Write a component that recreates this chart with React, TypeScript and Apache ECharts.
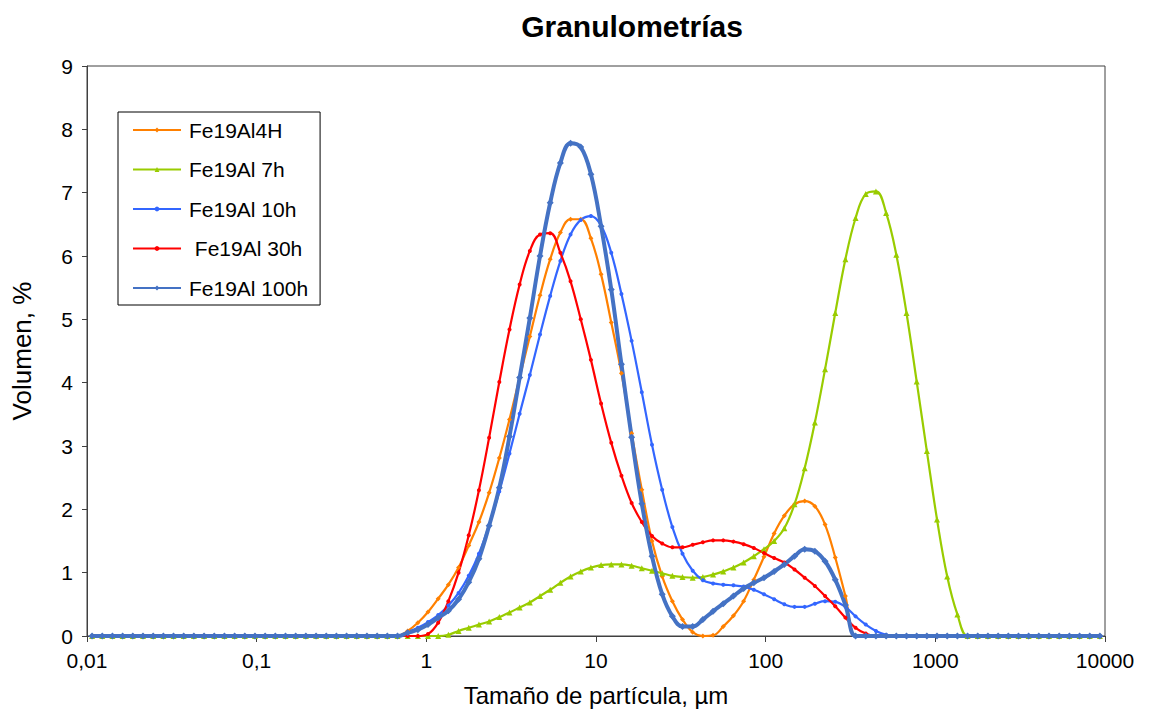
import React, { useEffect, useRef } from "react";
import * as echarts from "echarts";

// Particle size classes (µm), geometric centres of the 100 bins from 0.01 to 10000 µm
const sizes = [
  0.010715, 0.012303, 0.014125, 0.016218, 0.018621, 0.02138, 0.024547, 0.028184, 0.032359, 0.037154,
  0.042658, 0.048978, 0.056234, 0.064565, 0.074131, 0.085114, 0.097724, 0.1122, 0.12882, 0.14791,
  0.16982, 0.19498, 0.22387, 0.25704, 0.29512, 0.33884, 0.38905, 0.44668, 0.51286, 0.58884,
  0.67608, 0.77625, 0.89125, 1.0233, 1.1749, 1.349, 1.5488, 1.7783, 2.0417, 2.3442,
  2.6915, 3.0903, 3.5481, 4.0738, 4.6774, 5.3703, 6.166, 7.0795, 8.1283, 9.3325,
  10.715, 12.303, 14.125, 16.218, 18.621, 21.38, 24.547, 28.184, 32.359, 37.154,
  42.658, 48.978, 56.234, 64.565, 74.131, 85.114, 97.724, 112.2, 128.82, 147.91,
  169.82, 194.98, 223.87, 257.04, 295.12, 338.84, 389.05, 446.68, 512.86, 588.84,
  676.08, 776.25, 891.25, 1023.3, 1174.9, 1349, 1548.8, 1778.3, 2041.7, 2344.2,
  2691.5, 3090.3, 3548.1, 4073.8, 4677.4, 5370.3, 6166, 7079.5, 8128.3, 9332.5,
];

// Volume (%) per size class
const fe19Al4H = [
  0, 0, 0, 0, 0, 0, 0, 0, 0, 0,
  0, 0, 0, 0, 0, 0, 0, 0, 0, 0,
  0, 0, 0, 0, 0, 0, 0, 0, 0, 0,
  0, 0.08, 0.21, 0.38, 0.59, 0.81, 1.08, 1.43, 1.8, 2.26,
  2.81, 3.42, 4.08, 4.73, 5.38, 5.95, 6.37, 6.58, 6.58, 6.28,
  5.71, 4.95, 4.15, 3.2, 2.31, 1.5, 0.94, 0.55, 0.26, 0.06,
  0, 0.01, 0.15, 0.32, 0.55, 0.89, 1.25, 1.62, 1.9, 2.08,
  2.13, 2.05, 1.76, 1.24, 0.63, 0, 0, 0, 0, 0,
  0, 0, 0, 0, 0, 0, 0, 0, 0, 0,
  0, 0, 0, 0, 0, 0, 0, 0, 0, 0,
];

const fe19Al7h = [
  0, 0, 0, 0, 0, 0, 0, 0, 0, 0,
  0, 0, 0, 0, 0, 0, 0, 0, 0, 0,
  0, 0, 0, 0, 0, 0, 0, 0, 0, 0,
  0, 0, 0, 0, 0, 0.02, 0.08, 0.13, 0.18, 0.23,
  0.3, 0.37, 0.45, 0.53, 0.63, 0.73, 0.84, 0.94, 1.02, 1.08,
  1.12, 1.13, 1.13, 1.11, 1.07, 1.03, 0.99, 0.95, 0.93, 0.92,
  0.93, 0.97, 1.02, 1.08, 1.16, 1.26, 1.37, 1.5, 1.7, 2.08,
  2.65, 3.37, 4.21, 5.1, 5.95, 6.6, 6.98, 7.02, 6.68, 6.02,
  5.1, 4.02, 2.92, 1.84, 0.94, 0.34, 0, 0, 0, 0,
  0, 0, 0, 0, 0, 0, 0, 0, 0, 0,
];

const fe19Al10h = [
  0, 0, 0, 0, 0, 0, 0, 0, 0, 0,
  0, 0, 0, 0, 0, 0, 0, 0, 0, 0,
  0, 0, 0, 0, 0, 0, 0, 0, 0, 0,
  0, 0.06, 0.13, 0.22, 0.33, 0.48, 0.68, 0.95, 1.3, 1.75,
  2.28, 2.88, 3.51, 4.12, 4.76, 5.37, 5.92, 6.34, 6.57, 6.63,
  6.48, 6.05, 5.4, 4.66, 3.85, 3.02, 2.31, 1.72, 1.3, 1.03,
  0.88, 0.83, 0.81, 0.8, 0.78, 0.73, 0.66, 0.58, 0.5, 0.46,
  0.46, 0.51, 0.55, 0.54, 0.46, 0.31, 0.18, 0.08, 0.02, 0,
  0, 0, 0, 0, 0, 0, 0, 0, 0, 0,
  0, 0, 0, 0, 0, 0, 0, 0, 0, 0,
];

const fe19Al30h = [
  0, 0, 0, 0, 0, 0, 0, 0, 0, 0,
  0, 0, 0, 0, 0, 0, 0, 0, 0, 0,
  0, 0, 0, 0, 0, 0, 0, 0, 0, 0,
  0, 0, 0, 0.03, 0.21, 0.55, 1.0, 1.59, 2.3, 3.13,
  4.01, 4.84, 5.55, 6.08, 6.34, 6.36, 6.05, 5.6, 5.0, 4.36,
  3.67, 3.05, 2.53, 2.1, 1.8, 1.58, 1.46, 1.4, 1.4, 1.44,
  1.48, 1.51, 1.51, 1.49, 1.45, 1.39, 1.31, 1.23, 1.16, 1.05,
  0.92, 0.79, 0.63, 0.47, 0.29, 0.13, 0.04, 0, 0, 0,
  0, 0, 0, 0, 0, 0, 0, 0, 0, 0,
  0, 0, 0, 0, 0, 0, 0, 0, 0, 0,
];

const fe19Al100h = [
  0, 0, 0, 0, 0, 0, 0, 0, 0, 0,
  0, 0, 0, 0, 0, 0, 0, 0, 0, 0,
  0, 0, 0, 0, 0, 0, 0, 0, 0, 0,
  0, 0.05, 0.1, 0.18, 0.29, 0.4, 0.58, 0.85, 1.22, 1.74,
  2.34, 3.15, 4.08, 5.02, 6.0, 6.84, 7.47, 7.78, 7.72, 7.29,
  6.47, 5.47, 4.29, 3.14, 2.09, 1.26, 0.66, 0.31, 0.15, 0.15,
  0.26, 0.39, 0.51, 0.63, 0.75, 0.84, 0.92, 1.02, 1.13, 1.26,
  1.37, 1.34, 1.18, 0.89, 0.49, 0, 0, 0, 0, 0,
  0, 0, 0, 0, 0, 0, 0, 0, 0, 0,
  0, 0, 0, 0, 0, 0, 0, 0, 0, 0,
];

const seriesDefs = [
  { name: "Fe19Al4H", values: fe19Al4H, color: "#FF8000", symbol: "diamond", symbolSize: 5, width: 2.2 },
  { name: "Fe19Al 7h", values: fe19Al7h, color: "#99CC00", symbol: "triangle", symbolSize: 6, width: 2.2 },
  { name: "Fe19Al 10h", values: fe19Al10h, color: "#3366FF", symbol: "circle", symbolSize: 4, width: 2.2 },
  { name: " Fe19Al 30h", values: fe19Al30h, color: "#FF0000", symbol: "circle", symbolSize: 4, width: 2.2 },
  { name: "Fe19Al 100h", values: fe19Al100h, color: "#4472C4", symbol: "diamond", symbolSize: 7, width: 4 },
];

const FONT = "'Liberation Sans', Arial, sans-serif";
const AXIS_COLOR = "#404040";

export default function App() {
  const ref = useRef<HTMLDivElement>(null);

  useEffect(() => {
    document.body.style.margin = "0";
    if (!ref.current) return;
    const chart = echarts.init(ref.current, undefined, { renderer: "svg" });

    chart.setOption({
      animation: false,
      backgroundColor: "#ffffff",
      textStyle: { fontFamily: FONT },
      title: {
        text: "Granulometrías",
        left: 627,
        top: 6,
        textAlign: "center",
        textStyle: { fontFamily: FONT, fontSize: 30, fontWeight: "bold", color: "#000" },
      },
      legend: {
        orient: "vertical",
        left: 118,
        top: 112,
        padding: [7, 12, 6, 14],
        itemGap: 17.5,
        itemWidth: 48,
        itemHeight: 6,
        borderColor: "#000",
        borderWidth: 1,
        textStyle: { fontFamily: FONT, fontSize: 21, color: "#000", lineHeight: 22, padding: [0, 0, 0, 3] },
        data: seriesDefs.map((s) => s.name),
      },
      grid: {
        left: 87,
        right: 44,
        top: 66,
        bottom: 82,
        show: true,
        borderColor: AXIS_COLOR,
        borderWidth: 1,
        containLabel: false,
      },
      xAxis: {
        type: "log",
        logBase: 10,
        min: 0.01,
        max: 10000,
        name: "Tamaño de partícula, µm",
        nameLocation: "middle",
        nameGap: 47,
        nameTextStyle: { fontFamily: FONT, fontSize: 24, color: "#000" },
        axisLine: { lineStyle: { color: AXIS_COLOR, width: 1 } },
        axisTick: { show: true, inside: false, length: 6, lineStyle: { color: AXIS_COLOR } },
        minorTick: { show: false },
        splitLine: { show: false },
        axisLabel: {
          fontFamily: FONT,
          fontSize: 21,
          color: "#000",
          margin: 14,
          formatter: (v: number) => String(v).replace(".", ","),
        },
      },
      yAxis: {
        type: "value",
        min: 0,
        max: 9,
        interval: 1,
        name: "Volumen, %",
        nameLocation: "middle",
        nameGap: 52,
        nameTextStyle: { fontFamily: FONT, fontSize: 26, color: "#000" },
        axisLine: { show: true, lineStyle: { color: AXIS_COLOR, width: 1 } },
        axisTick: { show: true, inside: false, length: 5, lineStyle: { color: AXIS_COLOR } },
        splitLine: { show: false },
        axisLabel: { fontFamily: FONT, fontSize: 21, color: "#000", margin: 14 },
      },
      series: seriesDefs.map((s) => ({
        name: s.name,
        type: "line",
        data: sizes.map((x, i) => [x, s.values[i]]),
        smooth: 0.4,
        showSymbol: true,
        symbol: s.symbol,
        symbolSize: s.symbolSize,
        lineStyle: { color: s.color, width: s.width },
        itemStyle: { color: s.color, borderWidth: 0 },
        emphasis: { disabled: true },
      })),
    });

    return () => chart.dispose();
  }, []);

  return <div ref={ref} style={{ width: 1149, height: 718 }} />;
}
